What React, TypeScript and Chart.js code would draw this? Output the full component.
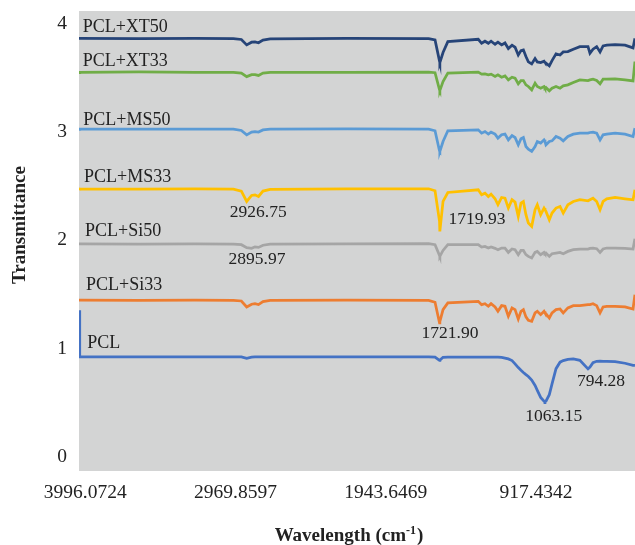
import { useEffect, useRef } from "react";
import { Chart, registerables } from "chart.js";

Chart.register(...registerables);

// Wavenumber grid (cm-1), shared by every spectrum, high to low
const wavenumbers = [
  3974.5, 3970, 3600, 3250, 3010, 2960, 2926.75, 2895.97, 2875, 2853, 2825, 2780, 2300,
  1790, 1750, 1721.9, 1719.93, 1700, 1670, 1480, 1459, 1438, 1417, 1400, 1375, 1357, 1334,
  1313, 1292, 1269, 1250, 1230, 1213, 1198, 1182, 1167, 1146, 1125, 1111, 1090, 1069,
  1063.15, 1057, 1036, 1019, 994, 969, 949, 920, 886, 845, 794.28, 782, 763, 740, 719, 700,
  677, 625, 563, 513, 501,
];

// Transmittance of each sample (offset stacked)
const pcl = [
  1.339, 0.909, 0.909, 0.909, 0.909, 0.908, 0.895, 0.906, 0.908, 0.908, 0.909, 0.909, 0.909,
  0.909, 0.907, 0.876, 0.878, 0.905, 0.907, 0.907, 0.907, 0.907, 0.907, 0.907, 0.907, 0.906, 0.904,
  0.898, 0.89, 0.875, 0.845, 0.81, 0.785, 0.765, 0.745, 0.728, 0.695, 0.645, 0.6, 0.535, 0.5,
  0.495, 0.5, 0.56, 0.66, 0.8, 0.86, 0.875, 0.886, 0.89, 0.877, 0.798, 0.815, 0.855, 0.868, 0.869, 0.868,
  0.868, 0.866, 0.85, 0.83, 0.83,
];
const pclSi33 = [
  1.432, 1.432, 1.43, 1.432, 1.431, 1.425, 1.37, 1.395, 1.4, 1.392, 1.42, 1.43, 1.432,
  1.431, 1.413, 1.222, 1.235, 1.345, 1.407, 1.422, 1.391, 1.4, 1.376, 1.4, 1.37, 1.33, 1.382,
  1.376, 1.284, 1.361, 1.345, 1.259, 1.33, 1.345, 1.278, 1.247, 1.238, 1.315, 1.33, 1.299, 1.33,
  1.315, 1.308, 1.268, 1.315, 1.345, 1.351, 1.315, 1.361, 1.382, 1.382, 1.391, 1.391, 1.4, 1.382, 1.315, 1.37,
  1.376, 1.376, 1.37, 1.351, 1.483,
];
const pclSi50 = [
  1.953, 1.953, 1.95, 1.952, 1.951, 1.945, 1.918, 1.912, 1.925, 1.92, 1.94, 1.95, 1.952,
  1.954, 1.945, 1.845, 1.837, 1.892, 1.945, 1.945, 1.923, 1.929, 1.914, 1.923, 1.911, 1.899, 1.914,
  1.914, 1.874, 1.905, 1.899, 1.853, 1.892, 1.892, 1.853, 1.837, 1.822, 1.874, 1.883, 1.853, 1.874,
  1.862, 1.868, 1.837, 1.862, 1.868, 1.874, 1.862, 1.883, 1.899, 1.905, 1.905, 1.911, 1.914, 1.908, 1.874, 1.905,
  1.914, 1.914, 1.911, 1.905, 2.0,
];
const pclMs33 = [
  2.462, 2.46, 2.458, 2.46, 2.458, 2.44, 2.344, 2.4, 2.405, 2.39, 2.44, 2.455, 2.46,
  2.461, 2.443, 2.16, 2.067, 2.344, 2.427, 2.452, 2.406, 2.421, 2.39, 2.412, 2.369, 2.314, 2.381,
  2.375, 2.283, 2.36, 2.338, 2.206, 2.329, 2.344, 2.222, 2.145, 2.114, 2.268, 2.314, 2.222, 2.283,
  2.268, 2.252, 2.175, 2.237, 2.283, 2.298, 2.237, 2.314, 2.344, 2.36, 2.35, 2.36, 2.375, 2.344, 2.268, 2.344,
  2.369, 2.381, 2.369, 2.36, 2.452,
];
const pclMs50 = [
  3.01, 3.012, 3.013, 3.012, 3.012, 3.0, 2.959, 2.985, 2.99, 2.985, 3.005, 3.012, 3.014,
  3.012, 2.997, 2.81, 2.806, 2.898, 2.997, 3.006, 2.975, 2.99, 2.966, 2.984, 2.966, 2.929, 2.96,
  2.966, 2.913, 2.953, 2.935, 2.867, 2.923, 2.935, 2.852, 2.827, 2.806, 2.852, 2.898, 2.883, 2.913,
  2.898, 2.867, 2.898, 2.904, 2.944, 2.929, 2.904, 2.944, 2.966, 2.975, 2.975, 2.981, 2.984, 2.975, 2.913, 2.96,
  2.966, 2.975, 2.966, 2.944, 3.021,
];
const pclXt33 = [
  3.535, 3.536, 3.54, 3.536, 3.537, 3.53, 3.497, 3.515, 3.515, 3.508, 3.53, 3.537, 3.537,
  3.538, 3.533, 3.375, 3.368, 3.451, 3.529, 3.538, 3.52, 3.523, 3.514, 3.52, 3.498, 3.514, 3.492,
  3.504, 3.467, 3.492, 3.483, 3.431, 3.461, 3.461, 3.421, 3.406, 3.375, 3.437, 3.406, 3.39, 3.406,
  3.39, 3.396, 3.366, 3.39, 3.406, 3.39, 3.412, 3.421, 3.443, 3.467, 3.461, 3.467, 3.473, 3.461, 3.431, 3.473,
  3.473, 3.476, 3.467, 3.458, 3.636,
];
const pclXt50 = [
  3.85, 3.85, 3.848, 3.851, 3.848, 3.84, 3.79, 3.815, 3.818, 3.81, 3.835, 3.846, 3.851,
  3.848, 3.835, 3.64, 3.627, 3.72, 3.82, 3.842, 3.805, 3.824, 3.805, 3.824, 3.796, 3.815, 3.79,
  3.808, 3.756, 3.787, 3.768, 3.697, 3.737, 3.744, 3.682, 3.633, 3.614, 3.664, 3.633, 3.627, 3.639,
  3.627, 3.621, 3.596, 3.645, 3.707, 3.697, 3.725, 3.728, 3.75, 3.774, 3.774, 3.713, 3.75, 3.774, 3.725, 3.78,
  3.787, 3.793, 3.787, 3.762, 3.85,
];

const seriesNames = ["PCL", "PCL+Si33", "PCL+Si50", "PCL+MS33", "PCL+MS50", "PCL+XT33", "PCL+XT50"];
const seriesValues = [pcl, pclSi33, pclSi50, pclMs33, pclMs50, pclXt33, pclXt50];
const seriesColors = ["#4472C4", "#ED7D31", "#A5A5A5", "#FFC000", "#5B9BD5", "#70AD47", "#264478"];

// Category-style labels printed under the plot
const xTickValues = [3996.0724, 2969.8597, 1943.6469, 917.4342];
const xTickLabels = ["3996.0724", "2969.8597", "1943.6469", "917.4342"];
const yTickValues = [0, 1, 2, 3, 4];

// Name of each spectrum, written just above its trace (wavenumber, transmittance)
const nameAnchors = [
  [3922.6, 1.034],
  [3930.8, 1.566],
  [3937.0, 2.067],
  [3943.3, 2.569],
  [3947.6, 3.098],
  [3951.4, 3.636],
  [3951.4, 3.956],
];

// Peak positions called out on the spectra
const peakTexts = ["2926.75", "2895.97", "1719.93", "1721.90", "1063.15", "794.28"];
const peakAnchors = [
  [2854.3, 2.244],
  [2862.4, 1.811],
  [1487.8, 2.175],
  [1656.5, 1.126],
  [1008.6, 0.361],
  [713.1, 0.681],
];

const SERIF = "'Liberation Serif', 'Times New Roman', serif";
const TEXT = "#222222";

const plotBackground = {
  id: "plotBackground",
  beforeDraw(chart: any) {
    const { ctx, chartArea } = chart;
    ctx.save();
    ctx.fillStyle = "#d3d4d4";
    ctx.fillRect(chartArea.left, chartArea.top, chartArea.right - chartArea.left, chartArea.bottom - chartArea.top);
    ctx.restore();
  },
};

const annotations = {
  id: "annotations",
  afterDraw(chart: any) {
    const { ctx } = chart;
    const xs = chart.scales.xData;
    const ys = chart.scales.y;
    ctx.save();
    ctx.fillStyle = TEXT;

    // trace names
    ctx.font = `18px ${SERIF}`;
    ctx.textAlign = "left";
    ctx.textBaseline = "middle";
    seriesNames.forEach((name, i) => {
      const [w, v] = nameAnchors[i];
      ctx.fillText(name, xs.getPixelForValue(w), ys.getPixelForValue(v));
    });

    // peak call-outs
    ctx.font = `17.5px ${SERIF}`;
    ctx.textAlign = "center";
    peakTexts.forEach((t, i) => {
      const [w, v] = peakAnchors[i];
      ctx.fillText(t, xs.getPixelForValue(w), ys.getPixelForValue(v));
    });

    // y axis title
    ctx.save();
    ctx.translate(20, 225);
    ctx.rotate(-Math.PI / 2);
    ctx.font = `bold 19px ${SERIF}`;
    ctx.textAlign = "center";
    ctx.textBaseline = "middle";
    ctx.fillText("Transmittance", 0, 0);
    ctx.restore();

    // x axis title with superscript unit
    const main = `bold 19px ${SERIF}`;
    const sup = `bold 12px ${SERIF}`;
    const partA = "Wavelength (cm";
    const partB = "-1";
    const partC = ")";
    ctx.textAlign = "left";
    ctx.textBaseline = "alphabetic";
    ctx.font = main;
    const wA = ctx.measureText(partA).width;
    const wC = ctx.measureText(partC).width;
    ctx.font = sup;
    const wB = ctx.measureText(partB).width;
    const total = wA + wB + 1 + wC;
    let x = 349 - total / 2;
    const base = 541;
    ctx.font = main;
    ctx.fillText(partA, x, base);
    x += wA;
    ctx.font = sup;
    ctx.fillText(partB, x, base - 7);
    x += wB + 1;
    ctx.font = main;
    ctx.fillText(partC, x, base);

    ctx.restore();
  },
};

export default function App() {
  const canvasRef = useRef<HTMLCanvasElement | null>(null);

  useEffect(() => {
    const canvas = canvasRef.current;
    if (!canvas) return;

    const datasets = seriesNames.map((name, i) => ({
      label: name,
      data: wavenumbers.map((w, k) => ({ x: w, y: seriesValues[i][k] })),
      borderColor: seriesColors[i],
      backgroundColor: seriesColors[i],
      borderWidth: 2.75,
      pointRadius: 0,
      tension: 0,
      fill: false,
      xAxisID: "xData",
      yAxisID: "y",
    }));

    const chart = new Chart(canvas, {
      type: "line",
      data: { datasets },
      options: {
        responsive: false,
        maintainAspectRatio: false,
        devicePixelRatio: 1,
        animation: false,
        layout: { padding: { top: 11, left: 0, right: 0, bottom: 0 } },
        plugins: {
          legend: { display: false },
          tooltip: { enabled: false },
        },
        scales: {
          x: {
            type: "linear",
            position: "bottom",
            reverse: true,
            min: 240.9,
            max: 4038.4,
            grid: { display: false, drawTicks: false },
            border: { display: false },
            afterBuildTicks: (scale: any) => {
              scale.ticks = xTickValues.map((v) => ({ value: v }));
            },
            afterFit: (scale: any) => {
              scale.height = 74;
              scale.paddingLeft = 0;
              scale.paddingRight = 0;
            },
            ticks: {
              autoSkip: false,
              maxRotation: 0,
              minRotation: 0,
              padding: 10,
              color: TEXT,
              font: { family: SERIF, size: 19.5 },
              callback: (_v: any, i: number) => xTickLabels[i],
            },
          },
          xData: {
            type: "linear",
            display: false,
            reverse: true,
            min: 500.6,
            max: 3974.5,
          },
          y: {
            type: "linear",
            position: "left",
            min: -0.145,
            max: 4.103,
            grid: { display: false, drawTicks: false },
            border: { display: false },
            afterBuildTicks: (scale: any) => {
              scale.ticks = yTickValues.map((v) => ({ value: v }));
            },
            afterFit: (scale: any) => {
              scale.width = 79;
              scale.paddingTop = 0;
              scale.paddingBottom = 0;
            },
            ticks: {
              padding: 12,
              labelOffset: 1.5,
              color: TEXT,
              font: { family: SERIF, size: 19.5 },
              callback: (v: any) => String(v),
            },
          },
        },
      },
      plugins: [plotBackground, annotations],
    } as any);

    return () => chart.destroy();
  }, []);

  return (
    <div style={{ position: "absolute", left: 0, top: 0, width: 635, height: 545, background: "#ffffff" }}>
      <canvas ref={canvasRef} width={635} height={545} style={{ width: 635, height: 545, display: "block" }} />
    </div>
  );
}
